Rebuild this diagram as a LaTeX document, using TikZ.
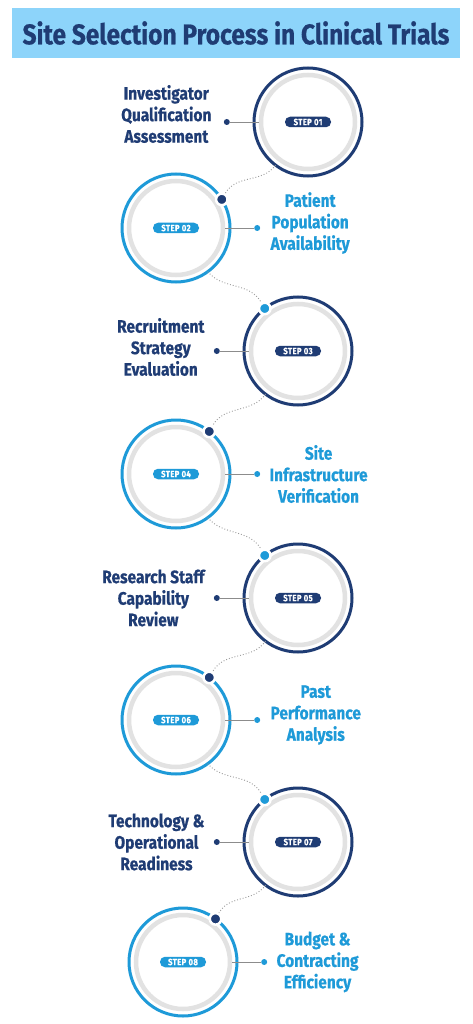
\documentclass[tikz,border=0pt]{standalone}
\usepackage{fontspec}
\setmainfont{Fira Sans}
\newfontfamily\headfont{Fira Sans}[FakeStretch=0.86,FakeBold=0.6]
\usetikzlibrary{positioning,calc}
\definecolor{mNavy}{HTML}{1F3C74}
\definecolor{mSky}{HTML}{1E9AD8}
\definecolor{mBand}{HTML}{8DD4FA}
\definecolor{mTrack}{HTML}{E2E2E2}
\definecolor{mWire}{HTML}{8C8C8C}
\definecolor{mTrail}{HTML}{9A9A9A}
\tikzset{
  ring/.style ={circle,draw=#1,line width=3pt,minimum size=108pt,inner sep=0pt,outer sep=0pt},
  track/.style={circle,draw=mTrack,line width=4.5pt,minimum size=94pt,inner sep=0pt},
  pill/.style ={rectangle,rounded corners=5pt,fill=#1,text=white,minimum width=46pt,minimum height=10.5pt,inner sep=0pt,
                font=\headfont\bfseries\fontsize{9}{9}\selectfont\addfontfeatures{LetterSpace=4}},
  knot/.style ={circle,fill=#1,draw=white,line width=2.5pt,minimum size=11.5pt,inner sep=0pt},
  tip/.style  ={circle,fill=#1,minimum size=6pt,inner sep=0pt},
  lbl/.style  ={text=#1,align=center,inner sep=0pt,font=\headfont\bfseries\fontsize{18}{21.5}\selectfont},
  wire/.style ={mWire,line width=0.8pt},
  trail/.style={mTrail,dotted,line width=0.9pt},
}

\begin{document}
\begin{tikzpicture}[x=1pt,y=-1pt]
  \fill[white] (0,0) rectangle (473,1024);
  \useasboundingbox (0,0) rectangle (473,1024);

  \node[fill=mBand,minimum width=448pt,minimum height=50pt,inner sep=0pt,text=mNavy,
        font=\headfont\bfseries\fontsize{28.5}{30}\selectfont] (title) at (236,33)
        {Site Selection Process in Clinical Trials};

  % circles
  \node[ring=mNavy] (c1) at (308,122) {};
  \node[ring=mSky]  (c2) at (176,228) {};
  \node[ring=mNavy] (c3) at (298,351) {};
  \node[ring=mSky]  (c4) at (176,474) {};
  \node[ring=mNavy] (c5) at (298,598) {};
  \node[ring=mSky]  (c6) at (176,720) {};
  \node[ring=mNavy] (c7) at (298,842) {};
  \node[ring=mSky]  (c8) at (183,962) {};
  \foreach \i in {1,...,8} {
    \node[track] (g\i) at (c\i) {};
  }

  \node[pill=mNavy] (p1) at (c1) {STEP 01};
  \node[pill=mSky]  (p2) at (c2) {STEP 02};
  \node[pill=mNavy] (p3) at (c3) {STEP 03};
  \node[pill=mSky]  (p4) at (c4) {STEP 04};
  \node[pill=mNavy] (p5) at (c5) {STEP 05};
  \node[pill=mSky]  (p6) at (c6) {STEP 06};
  \node[pill=mNavy] (p7) at (c7) {STEP 07};
  \node[pill=mSky]  (p8) at (c8) {STEP 08};

  % labels
  \node[tip=mNavy,left=24pt of c1]  (m1) {};
  \node[tip=mSky, right=24pt of c2] (m2) {};
  \node[tip=mNavy,left=24pt of c3]  (m3) {};
  \node[tip=mSky, right=24pt of c4] (m4) {};
  \node[tip=mNavy,left=24pt of c5]  (m5) {};
  \node[tip=mSky, right=24pt of c6] (m6) {};
  \node[tip=mNavy,left=24pt of c7]  (m7) {};
  \node[tip=mSky, right=24pt of c8] (m8) {};

  \node[lbl=mNavy,left=12pt of m1,yshift=8pt]  (t1) {Investigator\\Qualification\\Assessment};
  \node[lbl=mSky, right=10pt of m2,yshift=5pt] (t2) {Patient\\Population\\Availability};
  \node[lbl=mNavy,left=9pt of m3,yshift=4pt]   (t3) {Recruitment\\Strategy\\Evaluation};
  \node[lbl=mSky, right=9pt of m4]             (t4) {Site\\Infrastructure\\Verification};
  \node[lbl=mNavy,left=9pt of m5]              (t5) {Research Staff\\Capability\\Review};
  \node[lbl=mSky, right=10pt of m6,yshift=5pt] (t6) {Past\\Performance\\Analysis};
  \node[lbl=mNavy,left=9pt of m7]              (t7) {Technology \&\\Operational\\Readiness};
  \node[lbl=mSky, right=9pt of m8]             (t8) {Budget \&\\Contracting\\Efficiency};

  \foreach \i in {1,...,8} {
    \draw[wire] (m\i) -- (g\i);
  }

  % knots on the rings
  \node[knot=mNavy] (k2) at (c2.32) {};
  \node[knot=mSky]  (k3) at (c3.128) {};
  \node[knot=mNavy] (k4) at (c4.52) {};
  \node[knot=mSky]  (k5) at (c5.128) {};
  \node[knot=mNavy] (k6) at (c6.52) {};
  \node[knot=mSky]  (k7) at (c7.128) {};
  \node[knot=mNavy] (k8) at (c8.53) {};

  \draw[trail] (c1.233) to[out=235,in=60]  (k2);
  \draw[trail] (c2.306) to[out=-50,in=120] (k3);
  \draw[trail] (c3.233) to[out=235,in=60]  (k4);
  \draw[trail] (c4.306) to[out=-50,in=120] (k5);
  \draw[trail] (c5.233) to[out=235,in=60]  (k6);
  \draw[trail] (c6.306) to[out=-50,in=120] (k7);
  \draw[trail] (c7.233) to[out=235,in=60]  (k8);
\end{tikzpicture}
\end{document}
